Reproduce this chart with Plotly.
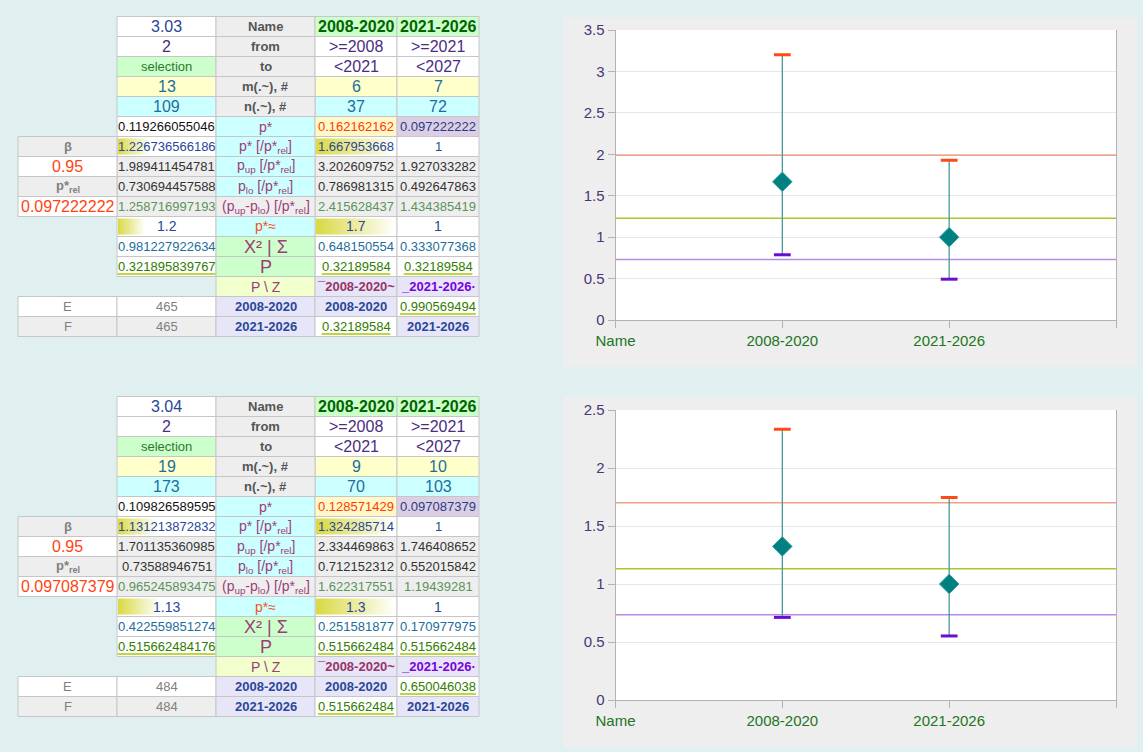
import plotly.graph_objects as go

W, H = 1143, 752
FONT = "Liberation Sans"

# x categories of both charts
x_labels = ["Name", "2008-2020", "2021-2026"]
periods = ["2008-2020", "2021-2026"]

# ---- block 1 (3.03) ; lists are [all, 2008-2020, 2021-2026]
t1_head = ["3.03", 2, "selection"]
t1_from = [">=2008", ">=2021"]
t1_to = ["<2021", "<2027"]
t1_m = [13, 6, 7]
t1_n = [109, 37, 72]
t1_p = [0.119266055046, 0.162162162, 0.097222222]
t1_rel = [1.226736566186, 1.667953668, 1]
t1_up = [1.989411454781, 3.202609752, 1.927033282]
t1_lo = [0.730694457588, 0.786981315, 0.492647863]
t1_span = [1.258716997193, 2.415628437, 1.434385419]
t1_approx = [1.2, 1.7, 1]
t1_chi = [0.981227922634, 0.648150554, 0.333077368]
t1_P = [0.321895839767, 0.32189584, 0.32189584]
t1_side = ["β", 0.95, "p*<sub>rel</sub>", 0.097222222]
t1_pz = ["¯2008-2020~", "_2021-2026·"]
t1_E = ["E", 465, "2008-2020", "2008-2020", 0.990569494]
t1_F = ["F", 465, "2021-2026", 0.32189584, "2021-2026"]

# ---- block 2 (3.04)
t2_head = ["3.04", 2, "selection"]
t2_from = [">=2008", ">=2021"]
t2_to = ["<2021", "<2027"]
t2_m = [19, 9, 10]
t2_n = [173, 70, 103]
t2_p = [0.109826589595, 0.128571429, 0.097087379]
t2_rel = [1.131213872832, 1.324285714, 1]
t2_up = [1.701135360985, 2.334469863, 1.746408652]
t2_lo = [0.73588946751, 0.712152312, 0.552015842]
t2_span = [0.965245893475, 1.622317551, 1.19439281]
t2_approx = [1.13, 1.3, 1]
t2_chi = [0.422559851274, 0.251581877, 0.170977975]
t2_P = [0.515662484176, 0.515662484, 0.515662484]
t2_side = ["β", 0.95, "p*<sub>rel</sub>", 0.097087379]
t2_pz = ["¯2008-2020~", "_2021-2026·"]
t2_E = ["E", 484, "2008-2020", "2008-2020", 0.650046038]
t2_F = ["F", 484, "2021-2026", 0.515662484, "2021-2026"]

# ---- layout constants (pixels)
COLS = [18, 117, 216, 315, 397, 479]
ROW_H = 20
BORDER = "#c6c6c6"
GRAY, CYAN, GREEN, YEL, LAV = "#eeeeee", "#ccffff", "#ccffcc", "#ffffcc", "#e6e6f8"
BLUE, PURP, TEAL, MAG = "#2a4699", "#4b2d7f", "#1c6e9c", "#9c3d78"
PAGE_BG = "#e0f0f0"

shapes, annots = [], []


def px(x):
    return x / W


def py(y):
    return 1 - y / H


def fmt(v):
    return v if isinstance(v, str) else f"{v:.13g}"


def rect(x0, y0, x1, y1, fill, line=None, layer="below"):
    shapes.append(dict(type="rect", xref="paper", yref="paper",
                       x0=px(x0), x1=px(x1), y0=py(y0), y1=py(y1),
                       fillcolor=fill, layer=layer,
                       line=dict(width=1 if line else 0, color=line or fill)))


def text_width(s, size):
    return size * sum(0.278 if ch in ".," else 0.556 for ch in s)


def cell(top, r, c, value, bg, fg, size=13, bold=False, under=False, bar=None):
    x0, x1 = COLS[c], COLS[c + 1]
    y0 = top + r * ROW_H
    y1 = y0 + ROW_H
    rect(x0, y0, x1, y1, bg, BORDER)
    if bar:
        # data bar: yellow gradient fading to white
        bw = bar * (x1 - x0 - 2)
        nseg = max(1, int(bw / 2))
        c0, c1 = (218, 218, 70), (255, 255, 255)
        for i in range(nseg):
            t = i / max(1, nseg - 1)
            col = "rgb(%d,%d,%d)" % tuple(int(a + (b - a) * t) for a, b in zip(c0, c1))
            rect(x0 + 1 + bw * i / nseg, y0 + 2, x0 + 1 + bw * (i + 1) / nseg + 0.3, y1 - 2, col)
    s = fmt(value)
    annots.append(dict(xref="paper", yref="paper", x=px((x0 + x1) / 2), y=py((y0 + y1) / 2),
                       text=f"<b>{s}</b>" if bold else s, showarrow=False,
                       xanchor="center", yanchor="middle",
                       font=dict(family=FONT, size=size, color=fg)))
    if under:
        w = text_width(s, size)
        cx = (x0 + x1) / 2
        shapes.append(dict(type="line", xref="paper", yref="paper", layer="above",
                           x0=px(cx - w / 2), x1=px(cx + w / 2),
                           y0=py((y0 + y1) / 2 + 7.5), y1=py((y0 + y1) / 2 + 7.5),
                           line=dict(color="#a8c800", width=1.5)))


def bars(vals):
    lo, hi = min(vals), max(vals)
    return [(v - lo) / (hi - lo) if hi > lo else 0 for v in vals]


def table(top, head, frm, to, m, n, p, rel, up, lo, span, approx, chi, P, side, pz, E, F):
    lab = dict(bg=GRAY, fg="#555555", size=13, bold=True)
    # row 0
    cell(top, 0, 1, head[0], "white", BLUE, 16)
    cell(top, 0, 2, "Name", **lab)
    for j in range(2):
        cell(top, 0, 3 + j, periods[j], GREEN, "#006400", 16, bold=True)
    # row 1
    cell(top, 1, 1, head[1], "white", PURP, 16)
    cell(top, 1, 2, "from", **lab)
    for j in range(2):
        cell(top, 1, 3 + j, frm[j], "white", PURP, 16)
    # row 2
    cell(top, 2, 1, head[2], GREEN, "#2b7a2b", 13)
    cell(top, 2, 2, "to", **lab)
    for j in range(2):
        cell(top, 2, 3 + j, to[j], "white", PURP, 16)
    # rows 3,4
    cols3 = [1, 3, 4]
    for j, c in enumerate(cols3):
        cell(top, 3, c, m[j], YEL, TEAL, 16)
        cell(top, 4, c, n[j], CYAN, TEAL, 16)
    cell(top, 3, 2, "m(.~), #", **lab)
    cell(top, 4, 2, "n(.~), #", **lab)
    # row 5 p*
    cell(top, 5, 1, p[0], "white", "#111111")
    cell(top, 5, 2, "p*", CYAN, MAG, 14)
    cell(top, 5, 3, p[1], "#fff8c8", "#ff3c00")
    cell(top, 5, 4, p[2], "#dccfe5", "#2a3d80")
    # row 6 relative p*
    b = bars(rel)
    for j, c in enumerate(cols3):
        cell(top, 6, c, rel[j], "white", BLUE, bar=b[j])
    cell(top, 6, 2, "p* [/p*<sub>rel</sub>]", CYAN, MAG, 14)
    # rows 7-9
    for j, c in enumerate(cols3):
        cell(top, 7, c, up[j], GRAY, "#333333")
        cell(top, 8, c, lo[j], GRAY, "#333333")
        cell(top, 9, c, span[j], GRAY, "#5b935b")
    cell(top, 7, 2, "p<sub>up</sub> [/p*<sub>rel</sub>]", CYAN, MAG, 14)
    cell(top, 8, 2, "p<sub>lo</sub> [/p*<sub>rel</sub>]", CYAN, MAG, 14)
    cell(top, 9, 2, "(p<sub>up</sub>-p<sub>lo</sub>) [/p*<sub>rel</sub>]", GRAY, MAG, 14)
    # side column
    cell(top, 6, 0, side[0], GRAY, "#808080", 13, bold=True)
    cell(top, 7, 0, side[1], "white", "#ff4411", 16)
    cell(top, 8, 0, side[2], GRAY, "#808080", 13, bold=True)
    cell(top, 9, 0, side[3], "white", "#ff4411", 16)
    # row 10 approx
    b = bars(approx)
    for j, c in enumerate(cols3):
        cell(top, 10, c, approx[j], "white", BLUE, 14, bar=b[j])
    cell(top, 10, 2, "p*≈", CYAN, "#ee5522", 14)
    # rows 11,12
    for j, c in enumerate(cols3):
        cell(top, 11, c, chi[j], "white", TEAL)
        cell(top, 12, c, P[j], "white", "#2e7d00", under=True)
    cell(top, 11, 2, "X² | Σ", GREEN, MAG, 18)
    cell(top, 12, 2, "P", GREEN, MAG, 18)
    # row 13
    cell(top, 13, 2, "P \\ Z", "#f0ffcc", MAG, 14)
    cell(top, 13, 3, pz[0], LAV, "#993366", 13, bold=True)
    cell(top, 13, 4, pz[1], LAV, "#7a00e0", 13, bold=True)
    # rows 14,15
    for r, row, bg in [(14, E, "white"), (15, F, GRAY)]:
        cell(top, r, 0, row[0], bg, "#808080")
        cell(top, r, 1, row[1], bg, "#808080")
        for c in (2, 3, 4):
            v = row[c]
            if isinstance(v, str):
                cell(top, r, c, v, LAV, BLUE, 13, bold=True)
            else:
                cell(top, r, c, v, "white", "#2e7d00", under=True)


table(16.5, t1_head, t1_from, t1_to, t1_m, t1_n, t1_p, t1_rel, t1_up, t1_lo, t1_span,
      t1_approx, t1_chi, t1_P, t1_side, t1_pz, t1_E, t1_F)
table(396.5, t2_head, t2_from, t2_to, t2_m, t2_n, t2_p, t2_rel, t2_up, t2_lo, t2_span,
      t2_approx, t2_chi, t2_P, t2_side, t2_pz, t2_E, t2_F)

# chart panels
PLOT_X = (615.5, 1116)
panels = [(17, 367, 30, 320), (397, 747, 410, 700)]
for top, bot, ptop, pbot in panels:
    rect(563, top, 1137, bot, "#eeeeee")
    rect(PLOT_X[0], ptop, PLOT_X[1], pbot, "white")

fig = go.Figure()


def chart(idx, rel, up, lo):
    xa, ya = ("x", "y") if idx == 1 else ("x2", "y2")
    xs = list(range(1, len(x_labels)))
    x_end = [0, len(x_labels)]
    for val, color in [(up[0], "#f2a088"), (rel[0], "#aac828"), (lo[0], "#b88ae8")]:
        fig.add_trace(go.Scatter(x=x_end, y=[val, val], mode="lines", xaxis=xa, yaxis=ya,
                                 line=dict(color=color, width=1.5)))
    ys = rel[1:]
    fig.add_trace(go.Scatter(
        x=xs, y=ys, mode="markers", xaxis=xa, yaxis=ya,
        marker=dict(symbol="diamond", size=15, color="#008080",
                    line=dict(width=1, color="#30a0a0")),
        error_y=dict(type="data", symmetric=False,
                     array=[u - y for u, y in zip(up[1:], ys)],
                     arrayminus=[y - l for l, y in zip(lo[1:], ys)],
                     color="#4a9898", thickness=1.3, width=0),
    ))
    fig.add_trace(go.Scatter(x=xs, y=up[1:], mode="markers", xaxis=xa, yaxis=ya,
                             marker=dict(symbol="line-ew", size=12,
                                         line=dict(width=3, color="#ff4a14"))))
    fig.add_trace(go.Scatter(x=xs, y=lo[1:], mode="markers", xaxis=xa, yaxis=ya,
                             marker=dict(symbol="line-ew", size=12,
                                         line=dict(width=3, color="#6a0fd0"))))


chart(1, t1_rel, t1_up, t1_lo)
chart(2, t2_rel, t2_up, t2_lo)

xax = dict(range=[0, len(x_labels)], tickvals=list(range(len(x_labels) + 1)),
           ticktext=x_labels + [""], showgrid=False, zeroline=False,
           showline=True, linecolor="#b3b3b3", linewidth=1, automargin=False,
           ticks="outside", ticklen=7, tickcolor="#b3b3b3",
           tickfont=dict(family=FONT, size=15, color="#237523"))
yax = dict(dtick=0.5, showgrid=True, gridcolor="#e6e6e6", zeroline=False,
           showline=True, mirror=True, linecolor="#b3b3b3", linewidth=1, automargin=False,
           ticks="outside", ticklen=7, tickcolor="#b3b3b3",
           tickfont=dict(family=FONT, size=15, color="#4b3575"))

fig.update_layout(
    width=W, height=H, autosize=False,
    margin=dict(l=0, r=0, t=0, b=0, pad=0, autoexpand=False),
    paper_bgcolor=PAGE_BG, plot_bgcolor="rgba(0,0,0,0)",
    showlegend=False, hovermode=False,
    xaxis=dict(xax, domain=[px(PLOT_X[0]), px(PLOT_X[1])], anchor="y"),
    yaxis=dict(yax, domain=[py(320), py(30)], range=[0, 3.5], anchor="x"),
    xaxis2=dict(xax, domain=[px(PLOT_X[0]), px(PLOT_X[1])], anchor="y2"),
    yaxis2=dict(yax, domain=[py(700), py(410)], range=[0, 2.5], anchor="x2"),
    shapes=shapes, annotations=annots,
)

# drop the browser's default page margin so the figure sits at the window origin
fig.write_html("out.html", config={"displayModeBar": False}, post_script=(
    "document.body.style.margin='0';"
    "document.body.style.overflow='hidden';"
    f"document.body.style.background='{PAGE_BG}';"
))
